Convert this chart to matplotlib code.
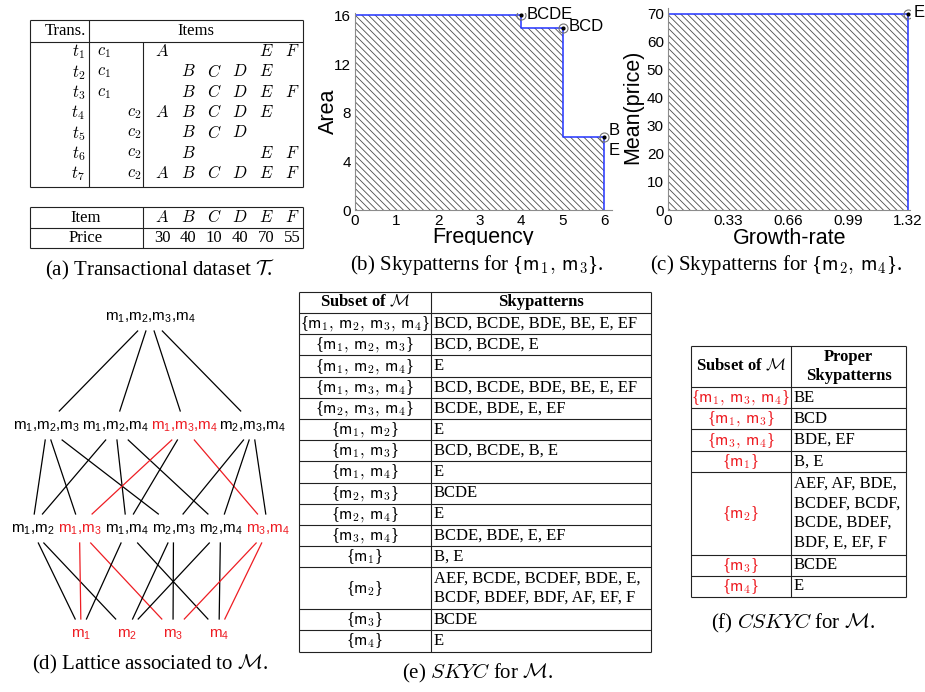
import itertools
import matplotlib
matplotlib.use('Agg')
import matplotlib.pyplot as plt
from matplotlib import font_manager
from matplotlib.transforms import Bbox, TransformedBbox

plt.rcParams['mathtext.fontset'] = 'cm'
plt.rcParams['hatch.linewidth'] = 0.6

SERIF = 'Liberation Serif'
SANS = 'Liberation Sans'
installed = {f.name for f in font_manager.fontManager.ttflist}
NARROW = 'Liberation Sans Narrow' if 'Liberation Sans Narrow' in installed else SANS
RED = '#ee1d23'
LINE = '#222222'

# ---- (a) transactional dataset
trans_ids = [1, 2, 3, 4, 5, 6, 7]
trans_class = [1, 1, 1, 2, 2, 2, 2]
trans_items = ['AEF', 'BCDE', 'BCDEF', 'ABCDE', 'BCD', 'BEF', 'ABCDEF']
items = ['A', 'B', 'C', 'D', 'E', 'F']
prices = [30, 40, 10, 40, 70, 55]

# ---- (b) skypatterns for {m1, m3}
freq = [4, 5, 6]
area = [16, 15, 6]
names_b = [['BCDE'], ['BCD'], ['B', 'E']]
ticks_b_x = [0, 1, 2, 3, 4, 5, 6]
ticks_b_y = [0, 4, 8, 12, 16]

# ---- (c) skypatterns for {m2, m4}
growth = [1.32]
mean_price = [70]
names_c = [['E']]
ticks_c_x = [0, 0.33, 0.66, 0.99, 1.32]
ticks_c_y = [0, 10, 20, 30, 40, 50, 60, 70]

# ---- (e) SKYC
skyc_sets = [(1, 2, 3, 4), (1, 2, 3), (1, 2, 4), (1, 3, 4), (2, 3, 4), (1, 2), (1, 3),
             (1, 4), (2, 3), (2, 4), (3, 4), (1,), (2,), (3,), (4,)]
skyc_pats = [['BCD, BCDE, BDE, BE, E, EF'],
             ['BCD, BCDE, E'],
             ['E'],
             ['BCD, BCDE, BDE, BE, E, EF'],
             ['BCDE, BDE, E, EF'],
             ['E'],
             ['BCD, BCDE, B, E'],
             ['E'],
             ['BCDE'],
             ['E'],
             ['BCDE, BDE, E, EF'],
             ['B, E'],
             ['AEF, BCDE, BCDEF, BDE, E,', 'BCDF, BDEF, BDF, AF, EF, F'],
             ['BCDE'],
             ['E']]

# ---- (f) CSKYC
cskyc_sets = [(1, 3, 4), (1, 3), (3, 4), (1,), (2,), (3,), (4,)]
cskyc_pats = [['BE'], ['BCD'], ['BDE, EF'], ['B, E'],
              ['AEF, AF, BDE,', 'BCDEF, BCDF,', 'BCDE, BDEF,', 'BDF, E, EF, F'],
              ['BCDE'], ['E']]

W, H = 925, 692
fig = plt.figure(figsize=(W / 100, H / 100), dpi=100)
bg = fig.add_axes([0, 0, 1, 1])
bg.set_xlim(0, W)
bg.set_ylim(H, 0)
bg.axis('off')


def hl(y, x0, x1, c=LINE):
    bg.plot([x0, x1], [y, y], color=c, lw=0.8, solid_capstyle='butt')


def vl(x, y0, y1, c=LINE):
    bg.plot([x, x], [y0, y1], color=c, lw=0.8, solid_capstyle='butt')


def txt(x, y, s, ha='center', size=12, family=SERIF, **kw):
    bg.text(x, y, s, ha=ha, va='center', fontsize=size, family=family, **kw)


def mset(s):
    return '{$' + r',\,'.join(r'\mathsf{m_%d}' % i for i in s) + '$}'


# ---------------- (a)
for y in (20, 42, 187):
    hl(y, 30, 303)
for x in (30, 89, 303):
    vl(x, 20, 187)
vl(143, 42, 187)
txt(86, 31, 'Trans.', ha='right')
txt(196, 31, 'Items')
item_x = [162 + 26 * k for k in range(len(items))]
for r, (tid, cl, its) in enumerate(zip(trans_ids, trans_class, trans_items)):
    y = 52 + 20.3 * r
    txt(85, y, r'$t_{%d}$' % tid, ha='right')
    if cl == 1:
        txt(97, y, r'$c_{%d}$' % cl, ha='left')
    else:
        txt(141, y, r'$c_{%d}$' % cl, ha='right')
    for k, it in enumerate(items):
        if it in its:
            txt(item_x[k], y, '$%s$' % it)

for y in (207, 228, 248):
    hl(y, 30, 303)
for x in (30, 143, 303):
    vl(x, 207, 248)
txt(86, 217.5, 'Item')
txt(86, 238, 'Price')
for k, (it, p) in enumerate(zip(items, prices)):
    txt(item_x[k], 217.5, '$%s$' % it)
    txt(item_x[k], 238, str(p))
txt(160, 270, r'(a) Transactional dataset $\mathcal{T}$.', size=15)


# ---------------- (b), (c)
def px_axes(x0, y0, x1, y1):
    return fig.add_axes([x0 / W, 1 - y1 / H, (x1 - x0) / W, (y1 - y0) / H])


clip = TransformedBbox(Bbox.from_extents(0, 1 - 245 / H, 1, 1), fig.transFigure)


def sky_plot(ax, xs, ys, labels, xlim, ylim, xt, yt, xlabel, ylabel, xl_pos, yl_pos):
    sx, sy = [0], [ys[0]]
    for k in range(len(xs)):
        sx += [xs[k], xs[k]]
        sy += [ys[k], ys[k + 1] if k + 1 < len(ys) else 0]
    ax.fill([0] + sx, [0] + sy, facecolor='white', edgecolor='0.3',
            hatch='\\\\\\\\\\', linewidth=0)
    ax.plot(sx, sy, color='#2233ff', lw=1.1)
    ax.plot(xs, ys, 'o', mfc='none', mec='0.45', ms=6.5, mew=0.8)
    ax.plot(xs, ys, 'o', color='k', ms=2)
    for x, y, labs in zip(xs, ys, labels):
        offs = [(4, 1)] if len(labs) == 1 else [(3, 5), (3, -10)]
        for lab, off in zip(labs, offs):
            ax.annotate(lab, (x, y), xytext=off, textcoords='offset points',
                        ha='left', va='center', fontsize=12, family=SANS)
    ax.set_xlim(*xlim)
    ax.set_ylim(*ylim)
    ax.set_xticks(xt)
    ax.set_xticklabels(['%g' % v for v in xt])
    ax.set_yticks(yt)
    ax.set_yticklabels(['%g' % v for v in yt])
    for lab in ax.get_xticklabels() + ax.get_yticklabels():
        lab.set_family(SANS)
    ax.tick_params(length=0, labelsize=11, pad=3)
    for side in ('top', 'right'):
        ax.spines[side].set_visible(False)
    for side in ('left', 'bottom'):
        ax.spines[side].set_color('0.55')
        ax.spines[side].set_linewidth(0.8)
    xl = ax.set_xlabel(xlabel, fontsize=15.5, family=SANS, va='center')
    ax.xaxis.set_label_coords(*xl_pos)
    xl.set_clip_box(clip)
    xl.set_clip_on(True)
    ax.set_ylabel(ylabel, fontsize=15.5, family=SANS, va='center')
    ax.yaxis.set_label_coords(*yl_pos)


axb = px_axes(355, 13, 612, 210)
sky_plot(axb, freq, area, names_b, (0, 6.19), (0, 16.2), ticks_b_x, ticks_b_y,
         'Frequency', 'Area', (0.5, -0.142), (-0.105, 0.5))
axc = px_axes(668, 8, 910, 210)
sky_plot(axc, growth, mean_price, names_c, (0, 1.333), (0, 72), ticks_c_x, ticks_c_y,
         'Growth-rate', 'Mean(price)', (0.504, -0.139), (-0.145, 0.51))
txt(477, 265, '(b) Skypatterns for ' + mset((1, 3)) + '.', size=15)
txt(776, 265, '(c) Skypatterns for ' + mset((2, 4)) + '.', size=15)

# ---------------- (d) lattice
red_nodes = set(cskyc_sets)
levels = [list(itertools.combinations(range(1, 5), k)) for k in (4, 3, 2, 1)]
level_y = [318, 427, 530, 635]
level_dx = [0, 68.7, 47, 46]
pos = {}
for lv, nodes in enumerate(levels):
    n = len(nodes)
    for i, s in enumerate(nodes):
        pos[s] = (150 + (i - (n - 1) / 2) * level_dx[lv], level_y[lv])
for lv in range(len(levels) - 1):
    for p in levels[lv]:
        for c in levels[lv + 1]:
            if set(c) <= set(p):
                px, py = pos[p]
                cx, cy = pos[c]
                col = RED if (p in red_nodes and c in red_nodes) else 'black'
                bg.plot([px + 0.12 * (cx - px), cx + 0.12 * (px - cx)],
                        [py + 13, cy - 16], color=col, lw=0.9)
for s, (x, y) in pos.items():
    lab = ','.join(r'm$\mathregular{_%d}$' % i for i in s)
    txt(x, y, lab, size=11, family=NARROW, color=RED if s in red_nodes else 'black')
txt(150, 664, r'(d) Lattice associated to $\mathcal{M}$.', size=15)

ROW_H, LINE_H = 21.2, 20.5


# ---------------- (e), (f) tables
def table(x0, xm, x1, top, head_h, sets, pats, head_right, set_color):
    hl(top, x0, x1)
    y = top + head_h
    hl(y, x0, x1)
    txt((x0 + xm) / 2, top + head_h / 2, r'Subset of $\mathcal{M}$', weight='bold')
    txt((xm + x1) / 2, top + head_h / 2, head_right, weight='bold', linespacing=1.2)
    for s, lines in zip(sets, pats):
        h = ROW_H + (len(lines) - 1) * LINE_H
        mid = y + h / 2
        txt((x0 + xm) / 2, mid, mset(s), color=set_color)
        for j, line in enumerate(lines):
            ly = mid + (j - (len(lines) - 1) / 2) * (LINE_H - 1)
            txt(xm + 3, ly, line, ha='left')
        y += h
        hl(y, x0, x1)
    for x in (x0, xm, x1):
        vl(x, top, y)


table(299, 431, 651, 292, 21, skyc_sets, skyc_pats, 'Skypatterns', 'black')
txt(478, 673, r'(e) $SKYC$ for $\mathcal{M}$.', size=15)
table(691, 791, 906, 346, 41, cskyc_sets, cskyc_pats, 'Proper\nSkypatterns', RED)
txt(793, 623, r'(f) $CSKYC$ for $\mathcal{M}$.', size=15)

fig.savefig('out.png', dpi=100)
